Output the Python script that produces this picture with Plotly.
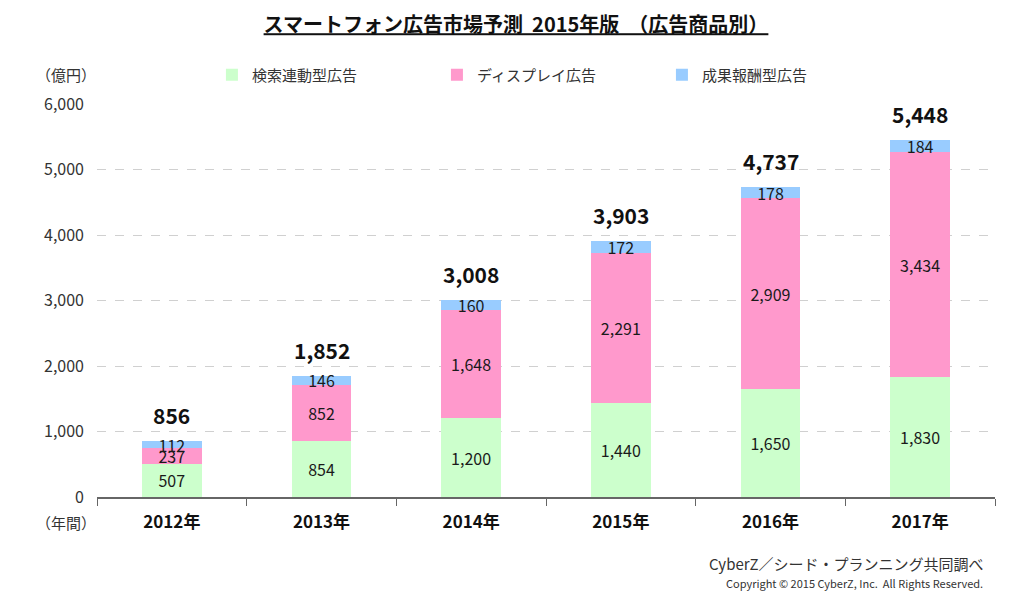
import plotly.graph_objects as go

# =============================================================================
# DATOS
# =============================================================================

years = ["2012年", "2013年", "2014年", "2015年", "2016年", "2017年"]
search_ads = [507, 854, 1200, 1440, 1650, 1830]
display_ads = [237, 852, 1648, 2291, 2909, 3434]
affiliate_ads = [112, 146, 160, 172, 178, 184]
totals = [856, 1852, 3008, 3903, 4737, 5448]

series_names = ["検索連動型広告", "ディスプレイ広告", "成果報酬型広告"]
series_colors = ["#ccffcc", "#ff99cc", "#99ccff"]

FONT = "Noto Sans CJK JP"

fig = go.Figure()

for name, vals, color in zip(series_names, [search_ads, display_ads, affiliate_ads], series_colors):
    fig.add_trace(
        go.Bar(
            x=years, y=vals, name=name,
            marker=dict(color=color, line=dict(width=0)),
            text=[f"{v:,}" for v in vals],
            textposition="inside", insidetextanchor="middle",
            textfont=dict(size=16, color="#1a1a1a", family=FONT),
            constraintext="none",
        ))

# totales encima de las barras
for yr, tot in zip(years, totals):
    fig.add_annotation(
        x=yr, y=tot, text=f"<b>{tot:,}</b>", showarrow=False,
        xanchor="center", yanchor="bottom", yshift=9,
        font=dict(size=21, color="#111111", family=FONT),
    )

# el body de la pagina tiene 8px de margen -> figura de 1016x594
fig.update_layout(
    barmode="stack", bargap=0.6,
    width=1016, height=594,
    template="plotly_white",
    paper_bgcolor="white", plot_bgcolor="white",
    font=dict(family=FONT, size=15, color="#333333"),
    margin=dict(l=89, r=29, t=96, b=105),
    title=dict(
        text="<u><b>スマートフォン広告市場予測  2015年版  （広告商品別）</b></u>",
        x=0.5, xanchor="center", y=0.971, yanchor="middle",
        font=dict(size=20, color="#111111", family=FONT),
    ),
    legend=dict(
        orientation="h", x=0.128, xanchor="left", y=1.074, yanchor="middle",
        font=dict(size=15, color="#333333"),
        entrywidth=180, entrywidthmode="pixels",
        itemwidth=30, traceorder="normal", bgcolor="rgba(0,0,0,0)",
    ),
)

fig.update_yaxes(
    range=[0, 6000], dtick=1000, tickformat=",",
    showgrid=True, gridcolor="#d0d0d0", griddash="dash", gridwidth=1,
    zeroline=False, showline=False, ticks="",
    ticklabelstandoff=12,
    tickfont=dict(size=16, color="#333333"),
)
fig.update_xaxes(
    showline=True, linecolor="#666666", linewidth=2,
    ticks="outside", tickson="boundaries", ticklen=7, tickcolor="#666666",
    ticklabelstandoff=9,
    tickfont=dict(size=17, color="#111111"),
    tickprefix="<b>", ticksuffix="</b>",
    showgrid=False,
)

fig.add_annotation(text="（億円）", xref="paper", yref="paper", x=-0.07, y=1.074,
                   xanchor="left", yanchor="middle", showarrow=False,
                   font=dict(size=15, color="#333333"))
fig.add_annotation(text="（年間）", xref="paper", yref="paper", x=-0.07, y=-0.066,
                   xanchor="left", yanchor="middle", showarrow=False,
                   font=dict(size=15, color="#333333"))
fig.add_annotation(text="CyberZ／シード・プランニング共同調べ", xref="paper", yref="paper",
                   x=0.989, y=-0.168, xanchor="right", yanchor="middle", showarrow=False,
                   font=dict(size=15, color="#333333"))
fig.add_annotation(text="Copyright © 2015 CyberZ, Inc.  All Rights Reserved.", xref="paper", yref="paper",
                   x=0.989, y=-0.219, xanchor="right", yanchor="middle", showarrow=False,
                   font=dict(size=11, color="#333333"))

fig.write_html("out.html")
